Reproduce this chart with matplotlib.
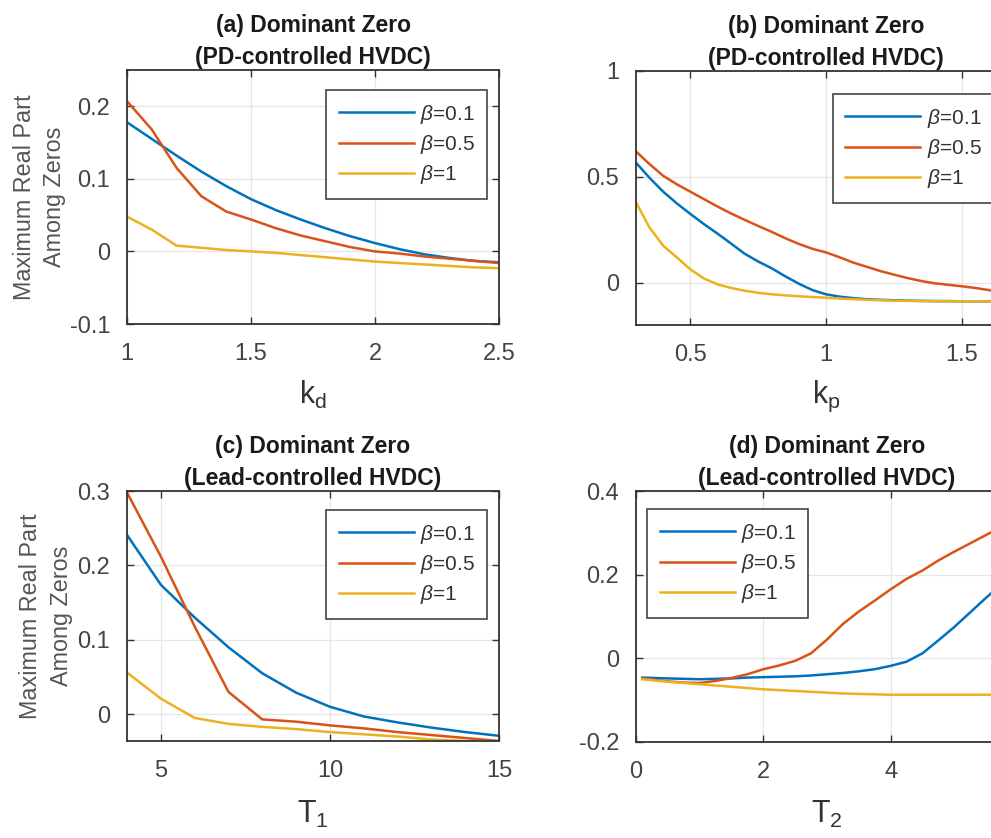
import numpy as np
import matplotlib
matplotlib.use("Agg")
import matplotlib.pyplot as plt

plt.rcParams['font.family'] = ['Liberation Sans', 'DejaVu Sans']
plt.rcParams['mathtext.fontset'] = 'custom'
plt.rcParams['mathtext.rm'] = 'Liberation Sans'
plt.rcParams['mathtext.it'] = 'Liberation Sans:italic'

# ---------------- data ----------------
labels = [r'$\beta$=0.1', r'$\beta$=0.5', r'$\beta$=1']
colors = ['#0072BD', '#D95319', '#EDB120']

# (a) PD-controlled, vs k_d
xa = [1.0, 1.1, 1.2, 1.3, 1.4, 1.5, 1.6, 1.7, 1.8, 1.9, 2.0, 2.1, 2.2, 2.3, 2.4, 2.5]
a_b01 = [0.178, 0.155, 0.132, 0.110, 0.090, 0.072, 0.057, 0.044, 0.032, 0.021, 0.0115, 0.003, -0.004, -0.009, -0.013, -0.015]
a_b05 = [0.207, 0.168, 0.115, 0.076, 0.055, 0.044, 0.032, 0.022, 0.014, 0.006, 0.000, -0.003, -0.007, -0.010, -0.013, -0.016]
a_b1 = [0.048, 0.030, 0.008, 0.005, 0.002, 0.000, -0.002, -0.005, -0.008, -0.011, -0.014, -0.016, -0.018, -0.020, -0.022, -0.023]

# (b) PD-controlled, vs k_p
xb = [0.30, 0.35, 0.40, 0.45, 0.50, 0.55, 0.60, 0.65, 0.70, 0.75, 0.80, 0.85, 0.90, 0.95, 1.00,
      1.05, 1.10, 1.15, 1.20, 1.25, 1.30, 1.35, 1.40, 1.45, 1.50, 1.55, 1.60, 1.65, 1.70]
b_b01 = [0.567, 0.495, 0.430, 0.375, 0.325, 0.277, 0.232, 0.185, 0.137, 0.100, 0.068, 0.030, -0.005, -0.035, -0.055,
         -0.066, -0.073, -0.078, -0.081, -0.083, -0.085, -0.086, -0.087, -0.087, -0.088, -0.088, -0.088, -0.088, -0.088]
b_b05 = [0.620, 0.560, 0.505, 0.465, 0.430, 0.395, 0.360, 0.327, 0.297, 0.268, 0.240, 0.210, 0.183, 0.160, 0.143,
         0.120, 0.095, 0.075, 0.055, 0.038, 0.022, 0.008, -0.003, -0.010, -0.017, -0.025, -0.035, -0.047, -0.058]
b_b1 = [0.380, 0.260, 0.175, 0.120, 0.063, 0.020, -0.008, -0.025, -0.038, -0.048, -0.055, -0.060, -0.064, -0.068, -0.071,
        -0.075, -0.078, -0.081, -0.083, -0.085, -0.086, -0.087, -0.087, -0.088, -0.088, -0.088, -0.088, -0.088, -0.088]

# (c) Lead-controlled, vs T_1
xc = [4, 5, 6, 7, 8, 9, 10, 11, 12, 13, 14, 15]
c_b01 = [0.241, 0.174, 0.130, 0.090, 0.055, 0.029, 0.010, -0.003, -0.011, -0.018, -0.024, -0.029]
c_b05 = [0.298, 0.212, 0.118, 0.030, -0.007, -0.010, -0.015, -0.019, -0.024, -0.028, -0.032, -0.036]
c_b1 = [0.056, 0.021, -0.005, -0.013, -0.017, -0.020, -0.024, -0.027, -0.030, -0.034, -0.036, -0.038]

# (d) Lead-controlled, vs T_2
xd = [0.1, 0.5, 0.75, 1.0, 1.25, 1.5, 1.75, 2.0, 2.25, 2.5, 2.75, 3.0, 3.25, 3.5, 3.75, 4.0,
      4.25, 4.5, 4.75, 5.0, 5.25, 5.5, 5.75, 6.0]
d_b01 = [-0.046, -0.048, -0.049, -0.050, -0.049, -0.048, -0.046, -0.045, -0.044, -0.043, -0.041, -0.038,
         -0.035, -0.031, -0.026, -0.018, -0.008, 0.012, 0.043, 0.075, 0.110, 0.145, 0.178, 0.210]
d_b05 = [-0.048, -0.055, -0.058, -0.059, -0.054, -0.047, -0.038, -0.026, -0.017, -0.006, 0.012, 0.045,
         0.082, 0.112, 0.138, 0.165, 0.190, 0.210, 0.234, 0.255, 0.275, 0.295, 0.315, 0.335]
d_b1 = [-0.050, -0.056, -0.059, -0.062, -0.065, -0.068, -0.071, -0.074, -0.076, -0.078, -0.080, -0.082,
        -0.084, -0.085, -0.086, -0.087, -0.087, -0.087, -0.087, -0.087, -0.087, -0.087, -0.087, -0.087]

titles = ['(a) Dominant Zero\n(PD-controlled HVDC)', '(b) Dominant Zero\n(PD-controlled HVDC)',
          '(c) Dominant Zero\n(Lead-controlled HVDC)', '(d) Dominant Zero\n(Lead-controlled HVDC)']
xlabels = [r'$\mathregular{k_d}$', r'$\mathregular{k_p}$', r'$\mathregular{T_1}$', r'$\mathregular{T_2}$']
ylabel = 'Maximum Real Part\nAmong Zeros'

# ---------------- figure ----------------
W, H = 991, 838
fig = plt.figure(figsize=(W / 100, H / 100), dpi=100)


def pos(l, t, r, b):
    return [l / W, 1 - b / H, (r - l) / W, (b - t) / H]


panels = [
    dict(rect=pos(127, 70, 499, 324), x=xa, ys=[a_b01, a_b05, a_b1], xlim=(1, 2.5), ylim=(-0.1, 0.25),
         xt=[1, 1.5, 2, 2.5], yt=[-0.1, 0, 0.1, 0.2], xtl=['1', '1.5', '2', '2.5'], ytl=['-0.1', '0', '0.1', '0.2'],
         leg=('upper right', (0.968, 0.921)), ylab=-0.164, xlab=-0.215),
    dict(rect=pos(636, 71, 1016, 325), x=xb, ys=[b_b01, b_b05, b_b1], xlim=(0.3, 1.7), ylim=(-0.2, 1.0),
         xt=[0.5, 1, 1.5], yt=[0, 0.5, 1], xtl=['0.5', '1', '1.5'], ytl=['0', '0.5', '1'],
         leg=('upper left', (0.518, 0.909)), ylab=None, xlab=-0.212),
    dict(rect=pos(127, 491, 499, 741), x=xc, ys=[c_b01, c_b05, c_b1], xlim=(4, 15), ylim=(-0.036, 0.3),
         xt=[5, 10, 15], yt=[0, 0.1, 0.2, 0.3], xtl=['5', '10', '15'], ytl=['0', '0.1', '0.2', '0.3'],
         leg=('upper right', (0.968, 0.924)), ylab=-0.146, xlab=-0.23),
    dict(rect=pos(636, 491, 1018, 742), x=xd, ys=[d_b01, d_b05, d_b1], xlim=(0, 6), ylim=(-0.2, 0.4),
         xt=[0, 2, 4], yt=[-0.2, 0, 0.2, 0.4], xtl=['0', '2', '4'], ytl=['-0.2', '0', '0.2', '0.4'],
         leg=('upper left', (0.029, 0.928)), ylab=None, xlab=-0.225),
]

tick_color = '#444444'
for i, p in enumerate(panels):
    ax = fig.add_axes(p['rect'])
    for y, c, lab in zip(p['ys'], colors, labels):
        ax.plot(p['x'], y, color=c, lw=1.8, label=lab)
    ax.set_xlim(*p['xlim'])
    ax.set_ylim(*p['ylim'])
    ax.set_xticks(p['xt'])
    ax.set_xticklabels(p['xtl'])
    ax.set_yticks(p['yt'])
    ax.set_yticklabels(p['ytl'])
    ax.grid(True, color='#e6e6e6', lw=0.9)
    ax.set_axisbelow(True)
    ax.tick_params(direction='in', top=True, right=True, length=5, width=1.0,
                   color='#333333', labelcolor=tick_color, labelsize=17)
    ax.tick_params(axis='x', pad=14)
    ax.tick_params(axis='y', pad=12)
    for s in ax.spines.values():
        s.set_color('#333333')
        s.set_linewidth(1.3)
    ax.set_title(titles[i], fontsize=16.5, fontweight='bold', color='#1a1a1a', pad=4, linespacing=1.55)
    ax.set_xlabel(xlabels[i], fontsize=22, color='#333333')
    ax.xaxis.set_label_coords(0.5, p['xlab'])
    if p['ylab'] is not None:
        ax.set_ylabel(ylabel, fontsize=16.8, color='#555555', linespacing=1.4)
        ax.yaxis.set_label_coords(p['ylab'], 0.5)
    leg = ax.legend(loc=p['leg'][0], bbox_to_anchor=p['leg'][1], fontsize=15, handlelength=3.6,
                    handletextpad=0.3, labelspacing=0.35, borderpad=0.6, borderaxespad=0,
                    fancybox=False, framealpha=1, edgecolor='#444444')
    leg.get_frame().set_linewidth(1.2)
    for t in leg.get_texts():
        t.set_color('#333333')

fig.savefig('out.png', dpi=100)
